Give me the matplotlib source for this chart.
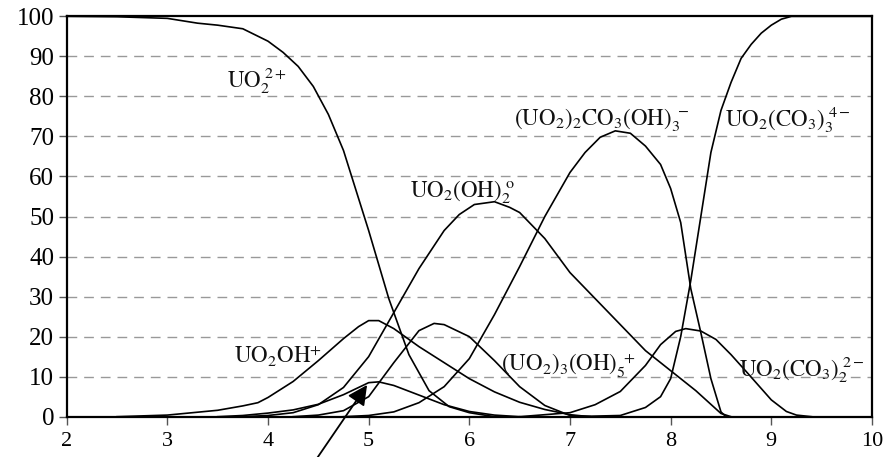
import matplotlib
matplotlib.use("Agg")
import matplotlib.pyplot as plt

# pH vs % of total uranium for each species
ph_uo2 = [2.0, 2.5, 3.0, 3.3, 3.5, 3.75, 4.0, 4.15, 4.3, 4.45, 4.6, 4.75, 5.0, 5.2, 5.4, 5.6, 5.8, 6.0, 6.25]
pct_uo2 = [100, 99.9, 99.5, 98.3, 97.8, 96.9, 93.8, 91.0, 87.5, 82.5, 75.5, 66.5, 46.5, 29.5, 15.5, 6.5, 2.5, 1.0, 0.0]

ph_uo2oh = [2.5, 3.0, 3.5, 3.75, 3.9, 4.0, 4.25, 4.5, 4.75, 4.9, 5.0, 5.1, 5.25, 5.5, 5.75, 6.0, 6.25, 6.5, 6.75, 7.0, 7.2]
pct_uo2oh = [0.0, 0.4, 1.6, 2.7, 3.5, 4.8, 8.8, 14.0, 19.5, 22.5, 24.0, 24.0, 22.0, 17.5, 13.5, 9.5, 6.2, 3.6, 1.8, 0.5, 0.0]

ph_uo2oh2 = [3.75, 4.0, 4.25, 4.5, 4.75, 5.0, 5.25, 5.5, 5.75, 5.9, 6.05, 6.25, 6.4, 6.5, 6.75, 7.0, 7.25, 7.5, 7.75, 8.0, 8.25, 8.5, 8.6]
pct_uo2oh2 = [0.0, 0.3, 1.0, 3.0, 7.3, 15.0, 26.0, 37.0, 46.5, 50.5, 53.0, 53.7, 52.3, 51.0, 44.5, 36.0, 29.5, 23.0, 16.5, 11.5, 6.5, 0.8, 0.0]

ph_co3oh3 = [4.75, 5.0, 5.25, 5.5, 5.75, 6.0, 6.25, 6.5, 6.75, 7.0, 7.15, 7.3, 7.45, 7.6, 7.75, 7.9, 8.0, 8.1, 8.2, 8.3, 8.4, 8.5, 8.55]
pct_co3oh3 = [0.0, 0.3, 1.2, 3.5, 7.5, 14.5, 25.5, 37.5, 50.0, 61.0, 66.0, 69.8, 71.4, 70.8, 67.6, 63.0, 57.0, 48.5, 32.0, 21.0, 9.5, 1.2, 0.0]

ph_tri = [4.25, 4.5, 4.75, 5.0, 5.25, 5.5, 5.65, 5.75, 6.0, 6.25, 6.5, 6.75, 7.0, 7.2]
pct_tri = [0.0, 0.4, 1.5, 5.0, 13.5, 21.5, 23.3, 23.0, 20.0, 14.0, 7.5, 2.8, 0.3, 0.0]

ph_co3_3 = [7.0, 7.5, 7.75, 7.9, 8.0, 8.1, 8.2, 8.3, 8.4, 8.5, 8.6, 8.7, 8.8, 8.9, 9.0, 9.1, 9.2, 9.5, 10.0]
pct_co3_3 = [0.0, 0.3, 2.3, 5.0, 9.5, 20.0, 34.0, 50.0, 66.0, 76.5, 83.5, 89.5, 93.0, 95.8, 97.8, 99.3, 100.0, 100.0, 100.0]

ph_co3_2 = [6.5, 7.0, 7.25, 7.5, 7.75, 7.9, 8.05, 8.15, 8.3, 8.45, 8.6, 8.75, 9.0, 9.15, 9.25, 9.4]
pct_co3_2 = [0.0, 1.0, 3.0, 6.3, 12.8, 18.0, 21.3, 22.0, 21.4, 19.3, 15.5, 11.3, 4.2, 1.3, 0.4, 0.0]

ph_dimer = [3.5, 3.75, 4.0, 4.25, 4.5, 4.75, 5.0, 5.1, 5.25, 5.5, 5.75, 6.0, 6.25, 6.5]
pct_dimer = [0.0, 0.3, 0.9, 1.7, 3.1, 5.5, 8.5, 8.7, 7.8, 5.4, 3.0, 1.3, 0.4, 0.0]

plt.rcParams['font.family'] = ['Liberation Serif', 'DejaVu Serif']
plt.rcParams['mathtext.fontset'] = 'stix'

fig = plt.figure(figsize=(8.83, 4.57), dpi=100)
ax = fig.add_axes([0.0755, 0.0882, 0.912, 0.876])

series = [(ph_uo2, pct_uo2), (ph_uo2oh, pct_uo2oh), (ph_uo2oh2, pct_uo2oh2),
          (ph_co3oh3, pct_co3oh3), (ph_tri, pct_tri), (ph_co3_3, pct_co3_3),
          (ph_co3_2, pct_co3_2), (ph_dimer, pct_dimer)]
for x, y in series:
    ax.plot(x, y, color='black', lw=1.2, clip_on=False, zorder=3,
            solid_joinstyle='round')

ax.set_xlim(2, 10)
ax.set_ylim(0, 100)
ax.set_xticks(range(2, 11))
ax.set_yticks(range(0, 101, 10))

# dashed horizontal grid
for g in range(10, 100, 10):
    ax.axhline(g, color='#999999', lw=1.0, ls=(0, (7, 5)), zorder=1)

for s in ax.spines.values():
    s.set_linewidth(1.6)
    s.set_color('black')

ax.tick_params(axis='both', direction='out', length=6, width=1, color='#555555',
               labelsize=18)
ax.tick_params(axis='x', pad=5, labelsize=16)
ax.tick_params(axis='y', pad=3)

lab = dict(fontsize=16.5, ha='left', va='baseline', color='#111111')
ax.text(3.59, 82.3, r'$\mathrm{UO_2^{\ 2+}}$', **lab)
ax.text(5.41, 54.9, r'$\mathrm{UO_2(OH)_2^{\ o}}$', **lab)
ax.text(6.44, 72.8, r'$\mathrm{(UO_2)_2CO_3(OH)_3^{\ -}}$', **lab)
ax.text(8.54, 72.4, r'$\mathrm{UO_2(CO_3)_3^{\ 4-}}$', **lab)
ax.text(3.66, 13.2, r'$\mathrm{UO_2OH^{+}}$', **lab)
ax.text(6.31, 11.2, r'$\mathrm{(UO_2)_3(OH)_5^{\ +}}$', **lab)
ax.text(8.68, 10.0, r'$\mathrm{UO_2(CO_3)_2^{\ 2-}}$', **lab)

ax.annotate('', xy=(5.0, 8.5), xytext=(4.47, -11),
            arrowprops=dict(arrowstyle='-|>', color='black', lw=1.3,
                            mutation_scale=30),
            annotation_clip=False)

fig.savefig('out.png', dpi=100)
